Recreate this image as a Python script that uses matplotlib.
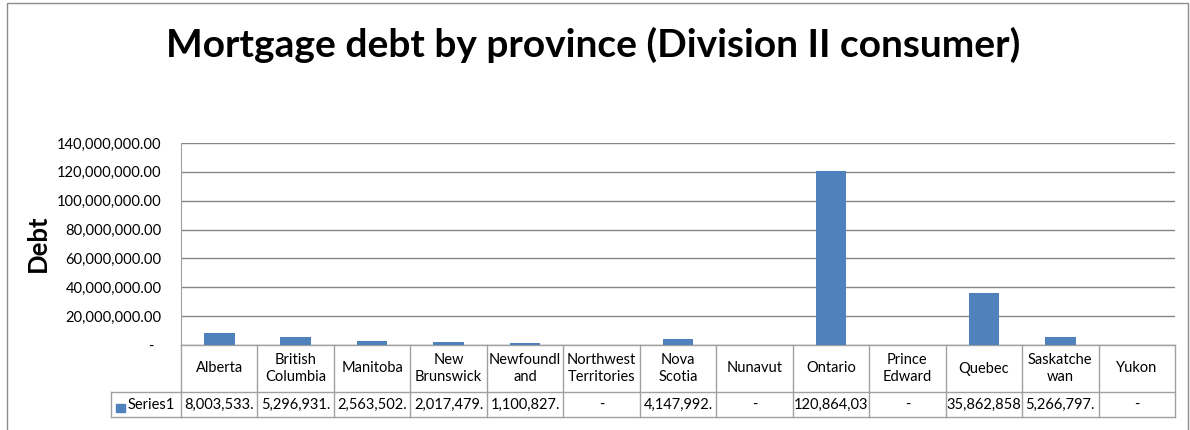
import matplotlib
matplotlib.use("Agg")
import matplotlib.pyplot as plt
from matplotlib.transforms import blended_transform_factory
from matplotlib.patches import Rectangle
from matplotlib.ticker import FuncFormatter

plt.rcParams['font.family'] = ['Lato', 'DejaVu Sans']

provinces = ["Alberta", "British\nColumbia", "Manitoba", "New\nBrunswick", "Newfoundl\nand",
             "Northwest\nTerritories", "Nova\nScotia", "Nunavut", "Ontario", "Prince\nEdward",
             "Quebec", "Saskatche\nwan", "Yukon"]
debt = [8003533, 5296931, 2563502, 2017479, 1100827, 0, 4147992, 0,
        120864030, 0, 35862858, 5266797, 0]
series_name = "Series1"
title = "Mortgage debt by province (Division II consumer)"
y_label = "Debt"
y_ticks = [0, 20e6, 40e6, 60e6, 80e6, 100e6, 120e6, 140e6]

W, H = 1190, 430
fig = plt.figure(figsize=(W / 100, H / 100), dpi=100)

def fx(px):
    return px / W

def fy(py):
    return 1 - py / H

BAR = "#4F81BD"
GRID = "#868686"
TAB = "#A0A0A0"

# outer chart frame
fig.patches.append(Rectangle((fx(7), fy(440)), fx(1188) - fx(7), fy(3) - fy(440),
                             transform=fig.transFigure, fill=False, ec="#8C8C8C", lw=1.0))

ax = fig.add_axes([fx(181), fy(345), fx(1175) - fx(181), fy(143) - fy(345)])
x = list(range(len(provinces)))
ax.bar(x, debt, width=0.4, color=BAR, zorder=3)
ax.set_xlim(-0.5, len(provinces) - 0.5)
ax.set_ylim(0, 140e6)
ax.set_yticks(y_ticks)
ax.yaxis.set_major_formatter(FuncFormatter(lambda v, p: "-  " if v == 0 else f"{v:,.2f}"))
ax.tick_params(axis='y', length=0, pad=14, labelsize=10.6, colors="black")
ax.set_xticks([])
ax.grid(axis='y', color=GRID, lw=1.0, zorder=0)
for s in ["top", "right", "bottom"]:
    ax.spines[s].set_visible(False)
ax.spines["left"].set_color(TAB)

fig.text(0.4985, fy(57), title, ha='center', va='baseline', fontsize=28, fontweight='bold')
fig.text(fx(38), fy(243), y_label, rotation=90, ha='center', va='center',
         fontsize=18.5, fontweight='bold')

# data table
tr = blended_transform_factory(ax.transData, fig.transFigure)
n = len(provinces)
y_top, y_mid, y_bot = fy(345), fy(392), fy(417)
for yy in (y_top, y_mid, y_bot):
    ax.plot([-0.5, n - 0.5], [yy, yy], transform=tr, color=TAB, lw=1.0, clip_on=False)
for i in range(n + 1):
    ax.plot([i - 0.5, i - 0.5], [y_top, y_bot], transform=tr, color=TAB, lw=1.0, clip_on=False)
# series cell
fig.add_artist(plt.Line2D([fx(111), fx(181)], [y_mid, y_mid], color=TAB, lw=1.0))
fig.add_artist(plt.Line2D([fx(111), fx(181)], [y_bot, y_bot], color=TAB, lw=1.0))
fig.add_artist(plt.Line2D([fx(111), fx(111)], [y_mid, y_bot], color=TAB, lw=1.0))
fig.patches.append(Rectangle((fx(116), fy(412)), fx(125) - fx(116), fy(404) - fy(412),
                             transform=fig.transFigure, color=BAR))
fig.text(fx(128), fy(405), series_name, ha='left', va='center', fontsize=10.5)

for i, (name, v) in enumerate(zip(provinces, debt)):
    ax.text(i, fy(368.5), name, transform=tr, ha='center', va='center', fontsize=10.5,
            linespacing=1.35)
    s = "-" if v == 0 else f"{v:,.2f}"[:10]
    ax.text(i, fy(405), s, transform=tr, ha='center', va='center', fontsize=10.5)

fig.savefig("out.png", dpi=100)
